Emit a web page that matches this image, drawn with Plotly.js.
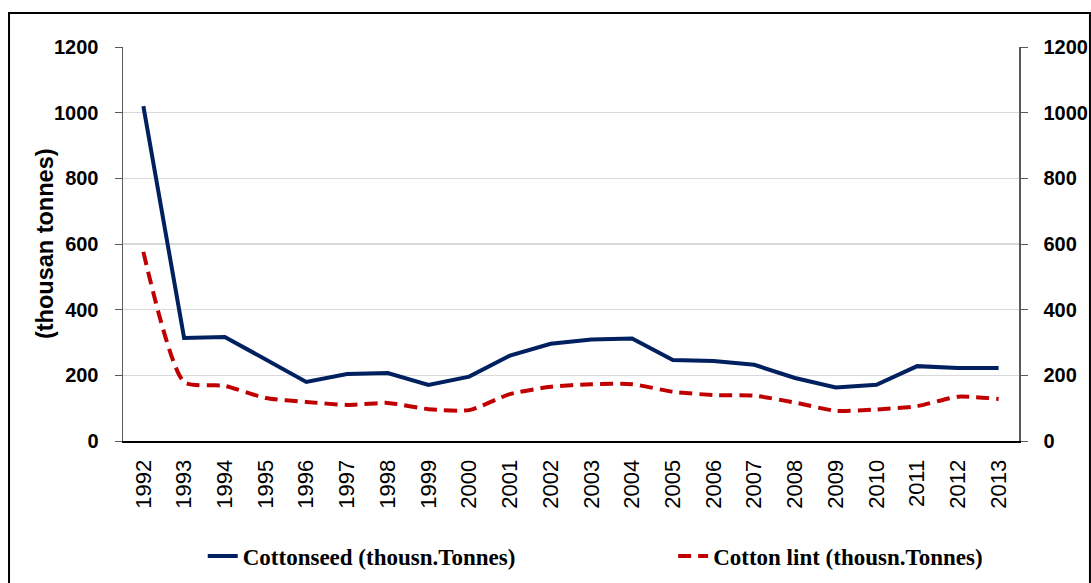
<!DOCTYPE html>
<html><head><meta charset="utf-8">
<script src="https://cdn.plot.ly/plotly-3.0.1.min.js"></script>
<style>html,body{margin:0;padding:0;background:#fff;}#chart{width:1091px;height:583px;}</style>
</head><body><div id="chart"></div>
<script>
const years = ['1992','1993','1994','1995','1996','1997','1998','1999','2000','2001','2002','2003','2004','2005','2006','2007','2008','2009','2010','2011','2012','2013'];
const cottonseed = [1020,314,317,247,180,204,207,171,196,260,296,309,312,247,244,232,192,163,171,228,222,222];
const cottonLint = [576,180,168,131,119,110,116,97,94,143,165,173,173,150,140,138,117,92,96,106,135,128];
const seriesNames = ['Cottonseed (thousn.Tonnes)','Cotton lint (thousn.Tonnes)'];
const yTicks = [0,200,400,600,800,1000,1200];
const yTitle = '(thousan tonnes)';

const tickFont = {family:'Liberation Sans, Arial, sans-serif', size:20, color:'#000', weight:'bold'};
const legFont = {family:'"Liberation Serif", "Times New Roman", serif', size:23, color:'#000', weight:'bold'};
const traces = [
  {x:years, y:cottonseed, name:seriesNames[0], type:'scatter', mode:'lines',
   line:{color:'#002060', width:4}, yaxis:'y', legend:'legend'},
  {x:years, y:cottonLint, name:seriesNames[1], type:'scatter', mode:'lines',
   line:{color:'#C00000', width:4, dash:'13px,7px', shape:'spline', smoothing:0.6}, yaxis:'y2', legend:'legend2'}
];
const layout = {
  width:1091, height:583,
  margin:{l:123, r:72, t:47, b:142, autoexpand:false},
  paper_bgcolor:'#fff', plot_bgcolor:'#fff',
  showlegend:true,
  legend:{orientation:'h', x:0.089, xanchor:'left', y:-0.292, yanchor:'middle', font:legFont, bgcolor:'rgba(0,0,0,0)'},
  legend2:{orientation:'h', x:0.614, xanchor:'left', y:-0.292, yanchor:'middle', font:legFont, bgcolor:'rgba(0,0,0,0)'},
  xaxis:{type:'category', range:[-0.5,21.5], automargin:false, showgrid:false, showline:true, linecolor:'#000', linewidth:2,
    ticks:'', tickangle:-90, ticklabelstandoff:8,
    tickfont:{family:'Liberation Sans, Arial, sans-serif', size:22, color:'#000'},
    zeroline:false, fixedrange:true},
  yaxis:{range:[0,1200], tickvals:yTicks, automargin:false, showgrid:true, gridcolor:'#d9d9d9', gridwidth:1.5,
    showline:true, linecolor:'#595959', linewidth:1.5, ticks:'outside', ticklen:7, tickcolor:'#595959',
    ticklabelstandoff:12, tickfont:tickFont, zeroline:false},
  yaxis2:{range:[0,1200], tickvals:yTicks, automargin:false, overlaying:'y', side:'right', showgrid:false,
    showline:true, linecolor:'#595959', linewidth:1.5, ticks:'outside', ticklen:7, tickcolor:'#595959',
    ticklabelstandoff:12, tickfont:tickFont, zeroline:false},
  annotations:[
    {text:yTitle, xref:'paper', yref:'paper', x:-0.087, y:0.5, xanchor:'center', yanchor:'middle',
     textangle:-90, showarrow:false, font:{family:'Liberation Sans, Arial, sans-serif', size:23.5, color:'#000', weight:'bold'}}
  ],
  shapes:[
    {type:'rect', xref:'paper', yref:'paper', x0:-0.1272, x1:1.0792, y0:-0.38, y1:1.0863,
     line:{color:'#000', width:2}, fillcolor:'rgba(0,0,0,0)', layer:'above'}
  ]
};
Plotly.newPlot('chart', traces, layout, {staticPlot:true, displayModeBar:false});
</script></body></html>
